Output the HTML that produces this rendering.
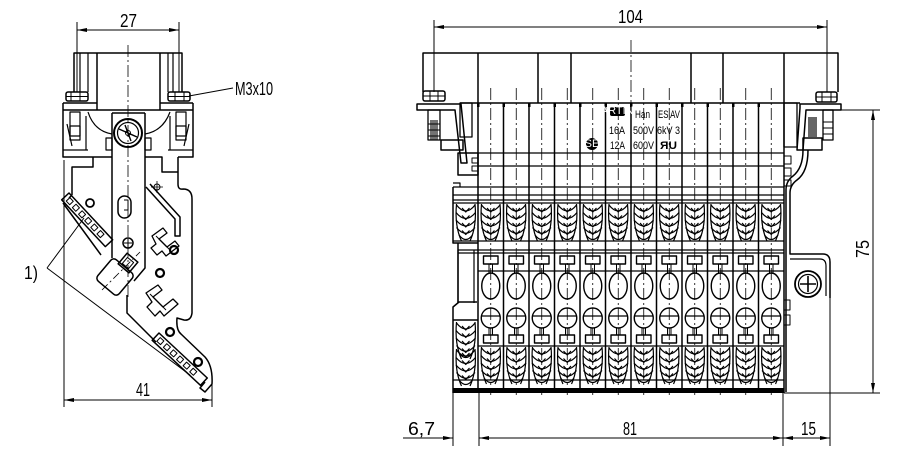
<!DOCTYPE html>
<html><head><meta charset="utf-8"><style>
html,body{margin:0;padding:0;background:#fff;}
svg{display:block;}
.t{font-family:"Liberation Sans",sans-serif;font-size:18px;fill:#000;stroke:none;}
.s{font-family:"Liberation Sans",sans-serif;font-size:11px;fill:#000;stroke:none;}
</style></head><body>
<svg width="907" height="471" viewBox="0 0 907 471" xmlns="http://www.w3.org/2000/svg">
<defs>
 <g id="spr" fill="none" stroke="#000" stroke-width="1.2">
  <path d="M3.5,0 Q1.5,22 8.5,37 M22,0 Q24,22 17,37"/>
  <path d="M3.5,1 Q12.75,13 22,1 M3,8.5 Q12.75,20.5 22.5,8.5 M3,16 Q12.75,28 22.5,16 M3.5,23.5 Q12.75,35 22,23.5 M6,31 Q12.75,40 19.5,31"/>
  <path d="M9,4 L12.75,8 L16.5,4 M9,11.5 L12.75,15.5 L16.5,11.5 M9,19 L12.75,23 L16.5,19 M9,26.5 L12.75,30.5 L16.5,26.5"/>
 </g>
 <g id="col" fill="none" stroke="#000">
  <use href="#spr" y="204"/>
  <rect x="5.5" y="256" width="14.5" height="8" stroke-width="1.4"/>
  <path d="M11,264V273M14.5,264V273" stroke-width="1"/>
  <ellipse cx="12.75" cy="286" rx="9" ry="13" stroke-width="1.4"/>
  <ellipse cx="12.75" cy="318" rx="9.5" ry="10" stroke-width="1.4"/>
  <path d="M3.25,316H22.25" stroke-width="1.2"/>
  <path d="M11,328V335M14.5,328V335" stroke-width="1"/>
  <rect x="5.5" y="335" width="14.5" height="8" stroke-width="1.4"/>
  <use href="#spr" y="347"/>
  <path d="M12.75,88V395" stroke-width="0.8" stroke-dasharray="12 3 2 3"/>
  <rect x="-1" y="103" width="2.5" height="4" fill="#000" stroke="none"/>
 </g>
</defs>

<g fill="none" stroke="#000" stroke-width="1.5" stroke-linejoin="round">

<!-- ================= LEFT VIEW ================= -->
<!-- dimension 27 -->
<path d="M77,22V92 M179,22V92 M77,30H179" stroke-width="1"/>
<polygon points="77,30 87,28 87,32" fill="#000" stroke="none"/>
<polygon points="179,30 169,28 169,32" fill="#000" stroke="none"/>
<text class="t" x="120" y="27" textLength="17" lengthAdjust="spacingAndGlyphs">27</text>
<!-- M3x10 -->
<path d="M189,96 L233,88" stroke-width="1"/>
<text class="t" x="235" y="95" font-size="17" textLength="38" lengthAdjust="spacingAndGlyphs">M3x10</text>

<!-- top housing -->
<path d="M74,92V53H182V92"/>
<path d="M80,53V92 M88,53V92 M168,53V92 M173,53V92" stroke-width="1.2"/>
<path d="M97,53V110 M160,53V110"/>
<rect x="66" y="92" width="22" height="9" rx="2"/>
<path d="M66,96.5H88 M71,92V101 M80,92V101" stroke-width="1"/>
<rect x="168" y="92" width="22" height="9" rx="2"/>
<path d="M168,96.5H190 M175,92V101 M184,92V101" stroke-width="1"/>
<!-- centerline -->
<path d="M128,45V300" stroke-width="0.8" stroke-dasharray="12 3 2 3"/>
<!-- flange -->
<path d="M63,103H97 M160,103H193 M63,110H193"/>
<path d="M63,103V157H93V167H72V195 M93,157H112"/>
<path d="M193,103V157H178 M145,157H162V172H178"/>
<path d="M178,157V184 Q178,190 183,189 Q192,189 192,199 V313 Q191,321 184,320 L177,318 Q176,330 181,334 L205,357 Q213,366 212,384 L205,392 L200,388 L205,382"/>
<!-- left side column -->
<rect x="70" y="112" width="10" height="28" stroke-width="1.2"/>
<path d="M67,124 L72,146 M86,116V150 M63,150H88" stroke-width="1.2"/>
<rect x="70" y="126" width="10" height="10" stroke-width="1.2"/>
<!-- right side column -->
<rect x="176" y="112" width="10" height="28" stroke-width="1.2"/>
<path d="M189,124 L184,146 M170,116V150 M168,150H193" stroke-width="1.2"/>
<rect x="176" y="126" width="10" height="10" stroke-width="1.2"/>
<!-- bowl -->
<path d="M88,112 Q94,131 112,134 M145,134 Q163,131 170,112" stroke-width="1.2"/>
<!-- lever -->
<path d="M112,113H145 M112,113V258 M145,113V268 L134,281"/>
<path d="M106,138H112V150H106Z M145,138H151V150H145Z" stroke-width="1.2"/>
<circle cx="128" cy="133" r="14" stroke-width="2"/>
<circle cx="128" cy="133" r="10.5" stroke-width="1.2"/>
<path d="M119,129 L137,137 M125,125 L131,141" stroke-width="1.4"/>
<circle cx="128" cy="133" r="2.5" stroke-width="1"/>
<rect x="118" y="196" width="13" height="22" rx="6.5"/>
<path d="M124,200H128V210H124" stroke-width="1"/>
<circle cx="128" cy="243" r="5"/>
<path d="M124,243H132 M128,239V247" stroke-width="1"/>
<!-- rotated block -->
<g transform="translate(115,277) rotate(40)">
 <rect x="-14" y="-14" width="28" height="28" rx="4"/>
</g>
<g transform="translate(128,263) rotate(40)">
 <rect x="-7" y="-7" width="14" height="14"/>
 <rect x="-4" y="-4" width="8" height="8" stroke-width="1"/>
</g>
<path d="M102,290 L140,252" stroke-width="0.8" stroke-dasharray="8 3 2 3"/>
<!-- upper diagonal strip -->
<g transform="translate(69,193) rotate(47)">
 <rect x="0" y="0" width="64" height="10"/>
 <rect x="4" y="2.5" width="5" height="5" stroke-width="1"/>
 <rect x="13" y="2.5" width="5" height="5" stroke-width="1"/>
 <rect x="22" y="2.5" width="5" height="5" stroke-width="1"/>
 <rect x="31" y="2.5" width="5" height="5" stroke-width="1"/>
 <rect x="40" y="2.5" width="5" height="5" stroke-width="1"/>
 <rect x="49" y="2.5" width="5" height="5" stroke-width="1"/>
</g>
<path d="M63,203 L101,255 M72,195 L69,198"/>
<circle cx="90" cy="203" r="4" stroke-width="1.8"/>
<!-- lower body edge -->
<path d="M127,295V313 L156,342"/>
<!-- lower diagonal strip -->
<g transform="translate(159,333) rotate(43)">
 <rect x="0" y="0" width="66" height="10"/>
 <rect x="4" y="2.5" width="5" height="5" stroke-width="1"/>
 <rect x="13" y="2.5" width="5" height="5" stroke-width="1"/>
 <rect x="22" y="2.5" width="5" height="5" stroke-width="1"/>
 <rect x="31" y="2.5" width="5" height="5" stroke-width="1"/>
 <rect x="40" y="2.5" width="5" height="5" stroke-width="1"/>
 <rect x="49" y="2.5" width="5" height="5" stroke-width="1"/>
</g>
<!-- rail hook -->
<path d="M146,187 L175,219 V236 H180 V217 L150,184"/>
<circle cx="157" cy="187" r="3" stroke-width="1"/>
<path d="M151,187H163 M157,181V193" stroke-width="0.8"/>
<!-- Z clips -->
<path d="M152,236 L163,228 L167,233 L159,239 L167,247 L175,241 L179,246 L166,256 L162,251 L157,255 L151,248 L156,244 Z" stroke-width="1.3"/>
<path d="M156,236 L170,250" stroke-width="1"/>
<path d="M146,293 L158,285 L162,290 L153,297 L163,307 L173,299 L178,304 L164,316 L160,311 L155,316 L147,307 L152,302 Z" stroke-width="1.3"/>
<path d="M150,294 L166,310" stroke-width="1"/>
<!-- rivets -->
<circle cx="174" cy="250" r="4" stroke-width="2.2"/>
<circle cx="160" cy="273" r="4" stroke-width="2.2"/>
<circle cx="170" cy="332" r="4" stroke-width="2.2"/>
<circle cx="198" cy="362" r="4" stroke-width="2.2"/>
<!-- 1) leaders -->
<path d="M47,268 L84,218 M47,268 L190,375" stroke-width="1"/>
<text class="t" x="24" y="279" textLength="14" lengthAdjust="spacingAndGlyphs">1)</text>
<!-- dim 41 -->
<path d="M64,160V407 M212,380V407 M64,400H212" stroke-width="1"/>
<polygon points="64,400 74,398 74,402" fill="#000" stroke="none"/>
<polygon points="212,400 202,398 202,402" fill="#000" stroke="none"/>
<text class="t" x="136" y="396" font-size="17" textLength="14" lengthAdjust="spacingAndGlyphs">41</text>

<!-- ================= RIGHT VIEW ================= -->
<!-- dim 104 -->
<path d="M434,20V92 M827,20V92 M434,27H827" stroke-width="1"/>
<polygon points="434,27 444,25 444,29" fill="#000" stroke="none"/>
<polygon points="827,27 817,25 817,29" fill="#000" stroke="none"/>
<text class="t" x="618" y="23" textLength="25" lengthAdjust="spacingAndGlyphs">104</text>
<path d="M631,40V103" stroke-width="0.8" stroke-dasharray="12 3 2 3"/>
<!-- housing -->
<path d="M423,92V53H838V92"/>
<path d="M478,53V103 M538,53V103 M571,53V103 M691,53V103 M723,53V103 M784,53V103"/>
<!-- body outline -->
<path d="M460,103H800"/>
<path d="M478,103V393 M503.5,103V393 M529,103V393 M554.5,103V393 M580,103V393 M605.5,103V393 M631,103V393 M656.5,103V393 M682,103V393 M707.5,103V393 M733,103V393 M758.5,103V393 M784,103V393"/>
<path d="M478,153H784 M478,166H784" stroke-width="1.3"/>
<path d="M453,187H784 M453,195H784 M453,200H784 M453,203H784" stroke-width="1.3"/>
<path d="M453,241H784 M458,250H784 M458,253H784 M478,271H784 M478,346H784 M453,380H784" stroke-width="1.3"/>
<rect x="453" y="388" width="331" height="5" fill="#000" stroke="none"/>
<!-- columns -->
<use href="#col" x="478"/>
<use href="#col" x="503.5"/>
<use href="#col" x="529"/>
<use href="#col" x="554.5"/>
<use href="#col" x="580"/>
<use href="#col" x="605.5"/>
<use href="#col" x="631"/>
<use href="#col" x="656.5"/>
<use href="#col" x="682"/>
<use href="#col" x="707.5"/>
<use href="#col" x="733"/>
<use href="#col" x="758.5"/>
<!-- left aux block -->
<path d="M453,187V243 H458 V303 M453,243H478"/>
<use href="#spr" x="453" y="204"/>
<path d="M458,250V303 M474,250V303" stroke-width="1.2"/>
<path d="M453,320V307 L459,302 H477 M453,320H478"/>
<use href="#spr" x="453" y="322"/>
<use href="#spr" x="453" y="349"/>
<path d="M453,320V393"/>
<!-- left bracket -->
<rect x="423" y="91" width="22" height="10" rx="2"/>
<path d="M423,96H445 M430,91V101 M438,91V101" stroke-width="1"/>
<path d="M417,104H461 L467,163 H461 L455,110 H417 Z"/>
<rect x="428" y="110" width="12" height="30" stroke-width="1.3"/>
<rect x="430" y="120" width="8" height="20" fill="#000" stroke="none" opacity="0.55"/>
<path d="M428,124H440 M428,130H440 M428,136H440" stroke-width="1"/>
<rect x="441" y="140" width="22" height="10"/>
<rect x="460" y="103" width="12" height="34" stroke-width="1.3"/>
<rect x="458" y="153" width="20" height="22"/>
<rect x="472" y="158" width="6" height="5" stroke-width="1"/>
<rect x="472" y="166" width="6" height="5" stroke-width="1"/>
<path d="M453,183H460V187" stroke-width="1.2"/>
<!-- right bracket -->
<rect x="816" y="92" width="21" height="10" rx="2"/>
<path d="M816,97H837 M822,92V102 M831,92V102" stroke-width="1"/>
<path d="M800,104H841V110H806 L803,150 H797 L800,108 Z"/>
<rect x="784" y="103" width="13" height="44" stroke-width="1.3"/>
<rect x="823" y="110" width="10" height="30" stroke-width="1.3"/>
<rect x="808" y="117" width="9" height="20" fill="#000" stroke="none" opacity="0.6"/>
<path d="M823,122H833 M823,128H833 M823,134H833" stroke-width="1"/>
<rect x="803" y="138" width="19" height="12"/>
<path d="M808,150 Q808,172 797,180 Q790,185 790,193 V254 H823 Q830,254 830,262 V298"/>
<path d="M803,150 Q803,168 793,176 Q786,181 786,190 V392"/>
<path d="M790,259 H820 Q826,259 826,266 V296" stroke-width="1.2"/>
<circle cx="808" cy="284" r="13" stroke-width="1.8"/>
<circle cx="808" cy="284" r="9.5" stroke-width="1.2"/>
<path d="M800,284H816 M808,276V292" stroke-width="1.6"/>
<rect x="784" y="156" width="7" height="8" stroke-width="1"/>
<rect x="784" y="168" width="7" height="8" stroke-width="1"/>
<rect x="784" y="180" width="7" height="6" stroke-width="1"/>
<rect x="784" y="300" width="6" height="10" stroke-width="1"/>
<rect x="784" y="315" width="6" height="10" stroke-width="1"/>

<!-- labels -->
<rect x="610" y="107" width="15" height="9" rx="2" fill="#000" stroke="none"/>
<text class="s" x="617.5" y="114" font-size="5" fill="#fff" style="fill:#fff" text-anchor="middle">HARTING</text>
<text class="s" x="635" y="118" textLength="15" lengthAdjust="spacingAndGlyphs">Han</text>
<text class="s" x="658" y="118" textLength="22" lengthAdjust="spacingAndGlyphs">ES AV</text>
<text class="s" x="609" y="134" textLength="16" lengthAdjust="spacingAndGlyphs">16A</text>
<text class="s" x="633" y="134" textLength="21" lengthAdjust="spacingAndGlyphs">500V</text>
<text class="s" x="657" y="134" textLength="23" lengthAdjust="spacingAndGlyphs">6kV 3</text>
<text class="s" x="610" y="149" textLength="15" lengthAdjust="spacingAndGlyphs">12A</text>
<text class="s" x="633" y="149" textLength="21" lengthAdjust="spacingAndGlyphs">600V</text>
<text class="s" x="660" y="149" font-weight="bold" textLength="17" lengthAdjust="spacingAndGlyphs">ЯU</text>
<circle cx="592" cy="144" r="6" fill="#000" stroke="none"/>
<text class="s" x="592" y="147" font-size="7" text-anchor="middle" style="fill:#fff">SE</text>

<!-- dim 75 -->
<path d="M838,110H880 M784,393H880 M873,110V393" stroke-width="1"/>
<polygon points="873,110 871,120 875,120" fill="#000" stroke="none"/>
<polygon points="873,393 871,383 875,383" fill="#000" stroke="none"/>
<text class="t" transform="translate(869,258) rotate(-90)" x="0" y="0" textLength="18" lengthAdjust="spacingAndGlyphs">75</text>

<!-- bottom dims -->
<path d="M453,393V446 M479,393V446 M783,393V446 M830,265V446" stroke-width="1"/>
<path d="M403,438H453 M479,438H830" stroke-width="1"/>
<polygon points="453,438 443,436 443,440" fill="#000" stroke="none"/>
<polygon points="479,438 489,436 489,440" fill="#000" stroke="none"/>
<polygon points="783,438 773,436 773,440" fill="#000" stroke="none"/>
<polygon points="783,438 793,436 793,440" fill="#000" stroke="none"/>
<polygon points="830,438 820,436 820,440" fill="#000" stroke="none"/>
<text class="t" x="408" y="435" textLength="27" lengthAdjust="spacingAndGlyphs">6,7</text>
<text class="t" x="623" y="435" textLength="14" lengthAdjust="spacingAndGlyphs">81</text>
<text class="t" x="801" y="435" textLength="15" lengthAdjust="spacingAndGlyphs">15</text>
</g>
</svg>
</body></html>
